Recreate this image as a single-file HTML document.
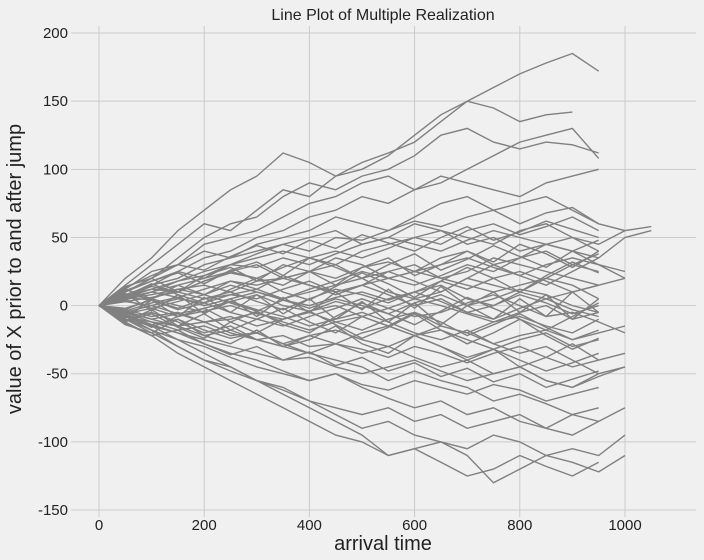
<!DOCTYPE html>
<html><head><meta charset="utf-8">
<style>
html,body{margin:0;padding:0;background:#f0f0f0;}
svg{display:block;font-family:"Liberation Sans",sans-serif;}
</style></head>
<body>
<svg id="chart" width="704" height="560" viewBox="0 0 704 560" xmlns="http://www.w3.org/2000/svg">
<rect x="0" y="0" width="704" height="560" fill="#f0f0f0"/>
<g id="grid"></g>
<g id="lines"></g>
<g id="ticks"></g>
<text x="383" y="20" text-anchor="middle" font-size="16" fill="#222">Line Plot of Multiple Realization</text>
<text x="383" y="550" text-anchor="middle" font-size="20" fill="#222">arrival time</text>
<text transform="translate(21,269) rotate(-90)" text-anchor="middle" font-size="20" fill="#222">value of X prior to and after jump</text>
</svg>
<script>
const xTicks=[0,200,400,600,800,1000];
const yTicks=[-150,-100,-50,0,50,100,150,200];
const timeStep=50;
const series=[
[0,20,35,55,70,85,95,112,105,95,105,112,120,135,150,160,170,178,185,172],
[0,15,30,45,60,55,70,85,80,95,100,110,125,140,150,145,135,140,142],
[0,10,20,35,50,60,65,80,90,85,95,100,110,125,130,120,115,120,118,112],
[0,12,25,30,45,50,55,65,75,80,90,95,85,90,100,110,120,125,130,108],
[0,8,15,25,35,40,50,55,65,70,80,75,85,95,90,85,80,90,95,100],
[0,10,20,30,40,35,45,50,55,65,60,55,65,75,80,70,75,80,70,60,55,58],
[0,5,15,20,30,35,40,45,50,55,45,50,60,55,50,45,55,60,50,45,55],
[0,10,18,25,20,30,35,40,35,30,40,45,50,55,45,50,40,45,50,40],
[0,6,10,15,20,25,30,20,25,35,30,20,25,35,40,30,35,45,40,30,20],
[0,8,12,10,18,25,20,15,25,30,20,25,30,20,25,35,30,25,20,15],
[0,5,8,12,15,10,18,20,15,10,15,20,25,20,15,10,15,20,30,25],
[0,3,6,10,5,8,12,5,10,15,20,10,5,10,20,15,10,5,10,15,20],
[0,-4,2,6,0,5,10,4,0,6,10,4,10,15,5,0,10,20,15,5],
[0,4,-2,3,8,2,-4,4,-2,5,0,-6,2,8,0,5,12,8,0,-5],
[0,-3,5,0,-5,3,8,0,-4,3,-2,5,10,3,-5,0,8,2,-6,0],
[0,6,4,-2,5,10,3,-3,5,12,8,2,10,18,12,20,25,18,10,15],
[0,-6,-2,-8,-4,0,-6,-10,-4,0,-8,-2,5,0,-6,-12,-5,0,-10,-5],
[0,-5,-10,-6,-12,-8,-15,-10,-5,-12,-18,-10,-5,-15,-20,-12,-8,-15,-20,-10],
[0,-8,-12,-18,-15,-22,-20,-28,-22,-18,-25,-30,-22,-18,-25,-32,-25,-20,-30,-25],
[0,-5,-12,-15,-22,-18,-25,-30,-35,-28,-32,-38,-30,-35,-42,-35,-30,-38,-45,-40,-35],
[0,-10,-15,-20,-25,-30,-35,-40,-38,-45,-50,-45,-40,-48,-55,-50,-45,-55,-60,-50,-45],
[0,-8,-18,-25,-30,-38,-45,-50,-55,-50,-58,-62,-55,-60,-65,-58,-62,-70,-65,-60],
[0,-10,-20,-30,-40,-45,-55,-60,-70,-75,-80,-75,-85,-80,-90,-85,-80,-90,-95,-85],
[0,-12,-22,-35,-45,-55,-65,-75,-85,-95,-100,-110,-105,-115,-125,-120,-110,-118,-125,-115],
[0,-10,-18,-30,-40,-48,-55,-65,-75,-85,-95,-110,-105,-100,-110,-130,-120,-110,-115,-122,-110],
[0,-8,-15,-25,-35,-45,-55,-62,-70,-80,-90,-85,-95,-100,-105,-95,-100,-110,-105,-110,-95],
[0,-6,-14,-20,-28,-35,-40,-48,-55,-50,-60,-68,-75,-70,-80,-75,-85,-90,-80,-85,-75],
[0,-4,-10,-15,-12,-20,-25,-22,-30,-28,-35,-30,-38,-45,-40,-50,-45,-55,-60,-52,-45],
[0,5,10,18,22,30,28,35,30,38,45,50,45,40,48,55,50,45,40,35,50,55],
[0,-3,-8,-5,-12,-10,-5,-12,-18,-12,-8,-15,-22,-15,-20,-28,-22,-18,-25,-20,-15],
[0,4,10,6,12,18,15,20,25,20,28,32,25,30,35,28,22,30,35,30,25],
[0,-5,0,5,2,-5,-10,-15,-8,-2,5,-2,-8,-5,2,8,0,-8,-5,-12,-20],
[0,3,0,-6,-2,3,-3,-8,-15,-10,-5,-12,-20,-25,-18,-28,-35,-30,-40,-50],
[0,7,14,10,18,24,20,28,35,40,35,42,50,45,55,60,52,58,65,55],
[0,-7,-14,-10,-18,-24,-20,-28,-35,-40,-45,-55,-48,-55,-60,-70,-65,-72,-80,-75],
[0,8,5,12,8,15,10,5,12,18,25,20,15,22,30,25,35,40,30,38],
[0,-2,4,-3,2,8,5,12,18,10,15,8,0,5,-5,-10,-2,5,-3,-8],
[0,6,12,18,25,30,38,45,40,50,48,55,62,58,65,70,60,68,72,60],
[0,-9,-5,-12,-20,-15,-25,-30,-22,-28,-20,-15,-22,-30,-38,-32,-40,-48,-42,-35],
[0,12,5,15,8,18,12,22,15,8,15,25,18,10,20,30,22,15,25,35],
[0,-12,-3,-15,-6,-18,-10,-2,-12,-20,-8,-15,-5,-12,-22,-14,-6,-16,-25,-18],
[0,9,-4,8,-6,5,-8,6,-5,10,-3,12,-2,14,0,10,-5,8,-10,5],
[0,-9,4,-8,6,-5,8,-6,5,-10,3,-12,2,-14,0,-10,5,-8,10,-5],
[0,14,20,10,22,28,18,30,25,15,28,35,22,30,40,32,45,38,28,40],
[0,-14,-20,-10,-22,-28,-18,-30,-25,-15,-28,-35,-22,-30,-40,-32,-45,-38,-28,-40],
[0,11,18,24,16,26,32,22,35,28,20,30,38,26,34,44,36,28,40,48],
[0,-11,-6,-16,-24,-12,-4,-14,-20,-8,2,-6,-14,-4,6,-2,-10,-18,-8,2],
[0,7,16,8,2,12,20,10,4,14,24,16,6,18,28,20,10,22,32,24],
[0,-7,-16,-8,-2,-12,-20,-10,-4,-14,-24,-16,-6,-18,-28,-20,-10,-22,-32,-24],
[0,13,22,30,26,36,44,38,48,42,52,46,40,50,58,48,54,62,56,50],
[0,-13,-22,-18,-28,-36,-30,-40,-34,-44,-38,-48,-42,-52,-46,-56,-50,-60,-54,-48]
];
const X0=99, XS=526/1000, Y0=305.6, YS=477/350;
const L=71,R=696,T=26,B=517;
function sx(v){return X0+v*XS;}
function sy(v){return Y0-v*YS;}
const NS="http://www.w3.org/2000/svg";
const grid=document.getElementById('grid'),tk=document.getElementById('ticks'),lg=document.getElementById('lines');
xTicks.forEach(v=>{
  const l=document.createElementNS(NS,'line');
  
  
  l.setAttribute('x1',sx(v));l.setAttribute('x2',sx(v));l.setAttribute('y1',T);l.setAttribute('y2',B);
  l.setAttribute('stroke','#cbcbcb');l.setAttribute('stroke-width','1');grid.appendChild(l);
  const t=document.createElementNS(NS,'text');
  
  
  t.setAttribute('x',sx(v));t.setAttribute('y',B+13);t.setAttribute('text-anchor','middle');
  t.setAttribute('font-size','15');t.setAttribute('fill','#222');t.textContent=v;tk.appendChild(t);
});
yTicks.forEach(v=>{
  const l=document.createElementNS(NS,'line');
  
  
  l.setAttribute('x1',L);l.setAttribute('x2',R);l.setAttribute('y1',sy(v));l.setAttribute('y2',sy(v));
  l.setAttribute('stroke','#cbcbcb');l.setAttribute('stroke-width','1');grid.appendChild(l);
  const t=document.createElementNS(NS,'text');
  
  
  t.setAttribute('x',L-3);t.setAttribute('y',sy(v)+5);t.setAttribute('text-anchor','end');
  t.setAttribute('font-size','15');t.setAttribute('fill','#222');t.textContent=v;tk.appendChild(t);
});
series.forEach(s=>{
  const p=document.createElementNS(NS,'polyline');
  
  
  p.setAttribute('points',s.map((v,i)=>sx(i*timeStep).toFixed(1)+','+sy(v).toFixed(1)).join(' '));
  p.setAttribute('fill','none');p.setAttribute('stroke','#808080');p.setAttribute('stroke-width','1.4');
  lg.appendChild(p);
});
</script>
</body></html>
